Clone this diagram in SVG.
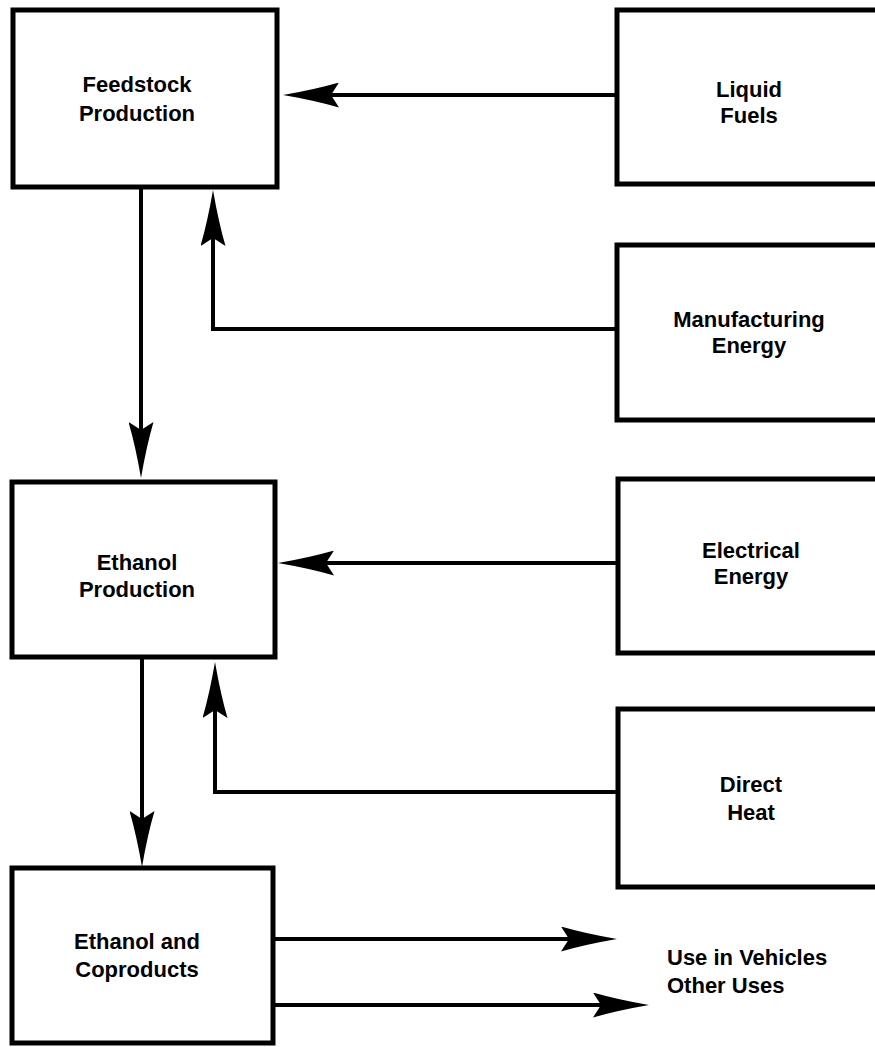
<svg xmlns="http://www.w3.org/2000/svg" width="875" height="1047" viewBox="0 0 875 1047">
<style>
.box{fill:#fff;stroke:#000;stroke-width:5}
.lbl{font-family:"Liberation Sans",Arial,Helvetica,sans-serif;font-weight:bold;font-size:22px;fill:#000;text-anchor:middle}
.lbl.start{text-anchor:start}
.con{fill:none;stroke:#000;stroke-width:4;marker-end:url(#ah)}
</style>
<defs>
<marker id="ah" viewBox="0 0 56 25" markerWidth="56" markerHeight="25" markerUnits="userSpaceOnUse" refX="36" refY="12.5" orient="auto">
<path d="M56,12.5 Q24,7 0,0 L8,12.5 L0,25 Q24,18 56,12.5 Z" fill="#000"/>
</marker>
</defs>
<rect width="875" height="1047" fill="#fff"/>
<g id="connectors">
<path class="con" d="M617,95 H303"/>
<path class="con" d="M617,329 H213 V210"/>
<path class="con" d="M141,189 V458"/>
<path class="con" d="M618,563 H298"/>
<path class="con" d="M618,792 H215 V682"/>
<path class="con" d="M142,659 V847"/>
<path class="con" d="M275,939 H597"/>
<path class="con" d="M275,1005 H629"/>
</g>
<g id="feedstock">
<rect class="box" x="13" y="10" width="264" height="177"/>
<text class="lbl" x="137" y="92">Feedstock</text>
<text class="lbl" x="137" y="121">Production</text>
</g>
<g id="liquid-fuels">
<rect class="box" x="617" y="10" width="265" height="174"/>
<text class="lbl" x="749" y="97">Liquid</text>
<text class="lbl" x="749" y="123">Fuels</text>
</g>
<g id="manufacturing-energy">
<rect class="box" x="617" y="245" width="265" height="175"/>
<text class="lbl" x="749" y="327">Manufacturing</text>
<text class="lbl" x="749" y="353">Energy</text>
</g>
<g id="ethanol-production">
<rect class="box" x="12" y="482" width="263" height="175"/>
<text class="lbl" x="137" y="570">Ethanol</text>
<text class="lbl" x="137" y="597">Production</text>
</g>
<g id="electrical-energy">
<rect class="box" x="618" y="479" width="265" height="174"/>
<text class="lbl" x="751" y="558">Electrical</text>
<text class="lbl" x="751" y="584">Energy</text>
</g>
<g id="direct-heat">
<rect class="box" x="618" y="709" width="265" height="178"/>
<text class="lbl" x="751" y="792">Direct</text>
<text class="lbl" x="751" y="820">Heat</text>
</g>
<g id="ethanol-coproducts">
<rect class="box" x="12" y="868" width="261" height="175"/>
<text class="lbl" x="137" y="949">Ethanol and</text>
<text class="lbl" x="137" y="977">Coproducts</text>
</g>
<g id="uses">
<text class="lbl start" x="667" y="965">Use in Vehicles</text>
<text class="lbl start" x="667" y="993">Other Uses</text>
</g>
</svg>
